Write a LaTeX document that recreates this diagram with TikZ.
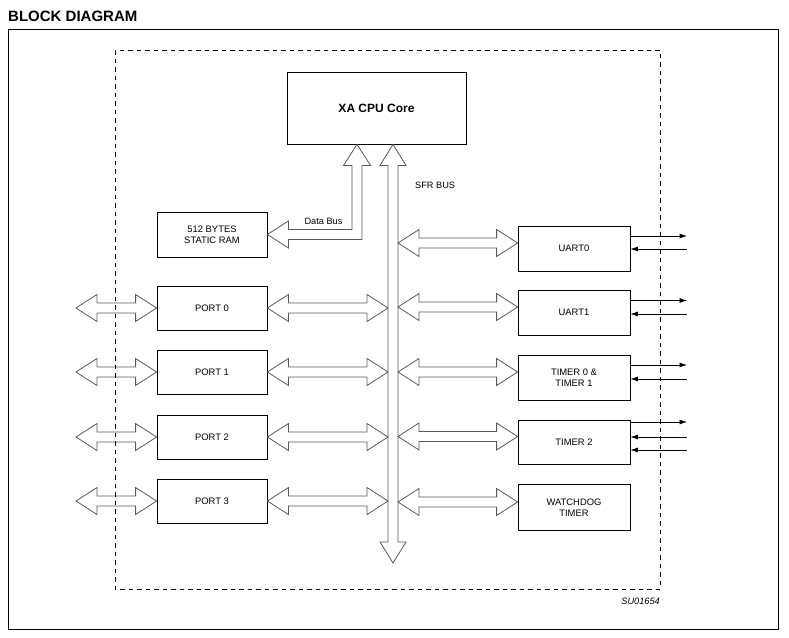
\documentclass[tikz,border=0pt]{standalone}
\usepackage{fontspec}
\setmainfont{Liberation Sans}
\usetikzlibrary{arrows.meta,positioning,calc}

\tikzset{
  blk/.style={draw, line width=0.8pt, minimum width=110pt, minimum height=45pt,
    align=center, inner sep=0pt, font=\fontsize{9.4}{10.8}\selectfont},
  rblk/.style={blk, minimum width=112pt},
  busline/.style={draw=black!65, line width=0.8pt, fill=white, line join=miter},
  sig/.style={line width=0.7pt},
  lbl/.style={inner sep=0pt, font=\fontsize{9.2}{10.5}\selectfont},
}

% hollow double-headed bus arrow, left end #1, right end #2 (same height)
\newcommand{\hbus}[2]{%
  \draw[busline] let \p1=(#1), \p2=(#2) in
    (\x1,\y1) -- (\x1+21,\y1+13.5) -- (\x1+21,\y1+5) -- (\x2-21,\y1+5)
    -- (\x2-21,\y1+13.5) -- (\x2,\y1) -- (\x2-21,\y1-13.5) -- (\x2-21,\y1-5)
    -- (\x1+21,\y1-5) -- (\x1+21,\y1-13.5) -- cycle;}

\begin{document}
\begin{tikzpicture}[x=1pt, y=-1pt, >=Latex]
  \useasboundingbox (0,0) rectangle (789,637);

  % frame and title
  \node[anchor=west, inner sep=0pt, font=\fontsize{15}{17}\selectfont\bfseries]
    (title) at (8,16) {BLOCK DIAGRAM};
  \draw[line width=1pt] (8,29) rectangle (778,629);

  % blocks
  \node[blk, minimum width=179pt, minimum height=72pt,
    font=\fontsize{12}{14}\selectfont\bfseries] (cpu) at (376.5,108) {XA CPU Core};
  \node[blk] (ram) at (212,234.5) {512 BYTES\\STATIC RAM};
  \node[blk, minimum height=44pt] (port0) at (212,308) {PORT 0};
  \node[blk, minimum height=44pt] (port1) at (212,372) {PORT 1};
  \node[blk, minimum height=44pt] (port2) at (212,437) {PORT 2};
  \node[blk, minimum height=44pt] (port3) at (212,501) {PORT 3};
  \node[rblk] (uart0) at (574,248.5) {UART0};
  \node[rblk] (uart1) at (574,312.5) {UART1};
  \node[rblk] (tmr01) at (574,377.5) {TIMER 0 \&\\TIMER 1};
  \node[rblk, minimum height=44pt] (tmr2) at (574,442) {TIMER 2};
  \node[rblk, minimum height=46pt] (wdt) at (574,507.5) {WATCHDOG\\TIMER};

  % reference points
  \coordinate (sfrtop) at ($(cpu.south)+(16.5,0)$);
  \coordinate (sfrbot) at (sfrtop |- 0,563);
  \coordinate (dbtop) at ($(cpu.south)+(-19.5,0)$);
  \coordinate (busL) at (388,0);
  \coordinate (busR) at (398,0);
  \coordinate (extL) at (76,0);
  \coordinate (pin) at (687,0);

  % SFR bus
  \draw[busline] let \p1=(sfrtop), \p2=(sfrbot) in
    (\x1,\y1) -- (\x1+13,\y1-21) -- (\x1+5,\y1-21) -- (\x1+5,\y2+21)
    -- (\x1+13,\y2+21) -- (\x1,\y2) -- (\x1-13,\y2+21) -- (\x1-5,\y2+21)
    -- (\x1-5,\y1-21) -- (\x1-13,\y1-21) -- cycle;
  \node[lbl, anchor=west] (sfrlbl) at (415,185) {SFR BUS};

  % data bus
  \draw[busline] let \p1=(ram.east), \p2=(dbtop) in
    (\x2,\y2) -- (\x2+13.5,\y2-21) -- (\x2+5,\y2-21) -- (\x2+5,\y1-5)
    -- (\x1+21,\y1-5) -- (\x1+21,\y1-13.5) -- (\x1,\y1) -- (\x1+21,\y1+13.5)
    -- (\x1+21,\y1+5) -- (\x2-5,\y1+5) -- (\x2-5,\y2-21) -- (\x2-13.5,\y2-21) -- cycle;
  \node[lbl] (dblbl) at (323.5,221) {Data Bus};

  % ports
  \foreach \pt in {port0,port1,port2,port3} {
    \hbus{\pt -| extL}{\pt.west}
    \hbus{\pt.east}{\pt -| busL}
  }

  % peripherals
  \foreach \bx in {uart0,uart1,tmr01,tmr2,wdt} {
    \coordinate (rb) at ($(\bx.west)+(0,-5.5)$);
    \hbus{rb -| busR}{rb}
  }

  % pins
  \foreach \bx/\dy in {uart0/-12.5, uart1/-12, tmr01/-12.5, tmr2/-20} {
    \coordinate (o) at ($(\bx.east)+(0,\dy)$);
    \draw[sig, -{Latex[length=7.5pt,width=5pt]}] (o) -- (o -| pin);
  }
  \foreach \bx/\dy in {uart0/0.5, uart1/1.5, tmr01/1.5, tmr2/-5, tmr2/8} {
    \coordinate (i) at ($(\bx.east)+(0,\dy)$);
    \draw[sig, {Latex[length=7.5pt,width=5pt]}-] (i) -- (i -| pin);
  }

  % chip outline
  \draw[line width=0.8pt, dash pattern=on 4.5pt off 4pt] (115,50) rectangle (660,589);
  \node[lbl, anchor=east, font=\fontsize{9.2}{10.5}\selectfont\itshape] (code) at (660,601) {SU01654};
\end{tikzpicture}
\end{document}
